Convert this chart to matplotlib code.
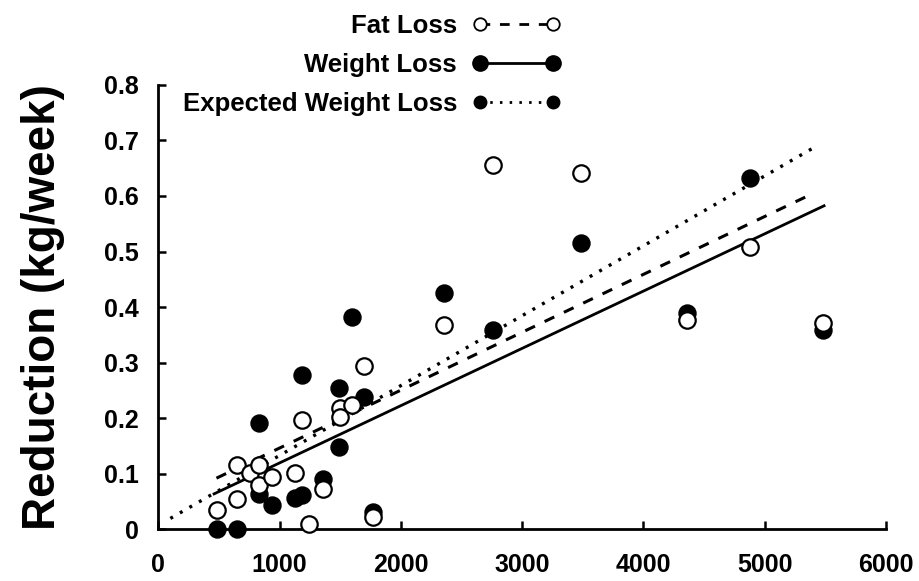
import matplotlib
matplotlib.use('Agg')
import matplotlib.pyplot as plt
from matplotlib.lines import Line2D
import numpy as np

plt.rcParams['font.family'] = ['Liberation Sans', 'DejaVu Sans']

# Weight loss (filled circles)
deficit_weight = [486, 651, 830, 830, 935, 1127, 1182, 1182, 1355, 1492, 1492,
                  1594, 1700, 1772, 2355, 2762, 3485, 4356, 4878, 5482]
weight_loss = [0.0, 0.0, 0.191, 0.064, 0.044, 0.056, 0.062, 0.278, 0.091, 0.255,
               0.148, 0.383, 0.239, 0.032, 0.425, 0.359, 0.515, 0.389, 0.632, 0.359]

# Fat loss (open circles)
deficit_fat = [486, 651, 651, 756, 830, 830, 935, 1127, 1182, 1242, 1355, 1498,
               1498, 1594, 1700, 1772, 2355, 2757, 3485, 4356, 4878, 5482]
fat_loss = [0.034, 0.054, 0.116, 0.101, 0.116, 0.079, 0.095, 0.101, 0.197, 0.010,
            0.072, 0.218, 0.203, 0.224, 0.294, 0.023, 0.368, 0.655, 0.641, 0.377,
            0.509, 0.371]

# Regression lines (slope, intercept, x-range)
fit_weight = (1.031e-4, 0.0163)
fit_fat = (1.042e-4, 0.042)
fit_expected = (1.258e-4, 0.007)
range_weight = [450, 5500]
range_fat = [480, 5400]
range_expected = [100, 5400]

xticks = [0, 1000, 2000, 3000, 4000, 5000, 6000]
yticks = [0, 0.1, 0.2, 0.3, 0.4, 0.5, 0.6, 0.7, 0.8]
ytick_labels = ['0', '0.1', '0.2', '0.3', '0.4', '0.5', '0.6', '0.7', '0.8']
legend_labels = ['Fat Loss', 'Weight Loss', 'Expected Weight Loss']

fig = plt.figure(figsize=(9.2, 5.81), dpi=100)
ax = fig.add_axes([0.172, 0.089, 0.791, 0.765])

def fit_line(fit, xr):
    x = np.array(xr, dtype=float)
    return x, fit[0] * x + fit[1]

xw, yw = fit_line(fit_weight, range_weight)
xf, yf = fit_line(fit_fat, range_fat)
xe, ye = fit_line(fit_expected, range_expected)

ax.plot(xw, yw, color='black', lw=2.0, solid_capstyle='butt')
ax.plot(xf, yf, color='black', lw=2.2, linestyle=(0, (3.5, 3.5)))
ax.plot(xe, ye, color='black', lw=2.4, linestyle=(0, (0.9, 2.4)))

ax.scatter(deficit_weight, weight_loss, s=150, facecolor='black', edgecolor='black',
           linewidth=1.0, zorder=3, clip_on=False)
ax.scatter(deficit_fat, fat_loss, s=140, facecolor='white', edgecolor='black',
           linewidth=1.6, zorder=4, clip_on=False)

ax.set_xlim(0, 6000)
ax.set_ylim(0, 0.8)
ax.set_xticks(xticks)
ax.set_xticklabels([str(t) for t in xticks])
ax.set_yticks(yticks)
ax.set_yticklabels(ytick_labels)
for sp in ['top', 'right']:
    ax.spines[sp].set_visible(False)
for sp in ['left', 'bottom']:
    ax.spines[sp].set_linewidth(2.0)
ax.tick_params(direction='in', length=6, width=1.8)
ax.tick_params(axis='x', pad=17)
ax.tick_params(axis='y', pad=14)
for lab in ax.get_xticklabels() + ax.get_yticklabels():
    lab.set_fontweight('bold')
    lab.set_fontsize(18)

ax.set_ylabel('Reduction (kg/week)', fontsize=33, fontweight='bold', labelpad=28)

handles = [
    Line2D([0], [0], color='black', lw=2.0, linestyle=(0, (3.5, 3.5)), marker='o',
           markersize=9, markerfacecolor='white', markeredgecolor='black', markeredgewidth=1.3),
    Line2D([0], [0], color='black', lw=2.0, marker='o', markersize=11,
           markerfacecolor='black', markeredgecolor='black'),
    Line2D([0], [0], color='black', lw=2.0, linestyle=(0, (0.9, 2.6)), marker='o',
           markersize=9, markerfacecolor='black', markeredgecolor='black'),
]
leg = fig.legend(handles, legend_labels, loc='upper right',
                 bbox_to_anchor=(561 / 920, 1 - 14 / 581), frameon=False,
                 markerfirst=False, numpoints=2, handlelength=3.45, handletextpad=0.6,
                 labelspacing=0.58, borderpad=0, borderaxespad=0,
                 prop={'weight': 'bold', 'size': 18.5})

fig.savefig('out.png', dpi=100)
